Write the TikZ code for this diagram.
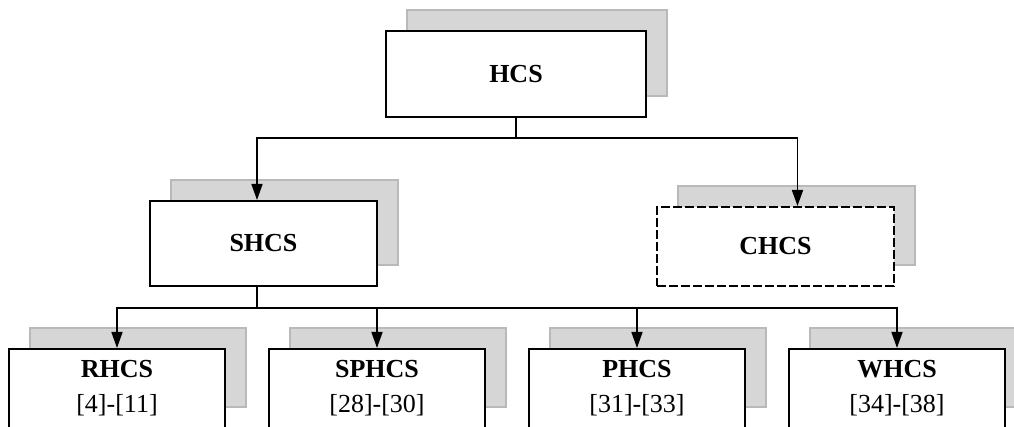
\documentclass[tikz,border=0pt]{standalone}
\usepackage{fontspec}
\setmainfont{Liberation Serif}
\usepackage{tikz}
\usetikzlibrary{arrows.meta, positioning, shadows}

\begin{document}
\begin{tikzpicture}[
    x=1pt, y=1pt,
    node distance=21pt,
    box/.style={
      rectangle,
      draw=black,
      fill=white,
      line width=1pt,
      align=center,
      inner sep=0pt,
      font=\fontsize{13}{17.5}\selectfont,
      general shadow={
        fill=gray!32,
        draw=gray!55,
        solid,
        line width=0.6pt,
        shadow xshift=10.5pt,
        shadow yshift=10.5pt
      }
    },
    leaf/.style={
      box,
      minimum width=108pt,
      minimum height=39.5pt
    },
    arrow/.style={
      -{Triangle[length=8pt,width=5.5pt]},
      line width=0.8pt,
      draw=black
    }
  ]
    \useasboundingbox (0,0) rectangle (507,-213.5);

    % Top level
    \node (hcs) [box, minimum width=130pt, minimum height=43pt] at (258,-37) {\textbf{HCS}};

    % Second level
    \node (shcs) [box, minimum width=113.5pt, minimum height=42.5pt] at (131.75,-121.75) {\textbf{SHCS}};
    \node (chcs) [box, dashed, dash pattern=on 4.5pt off 1.5pt, minimum width=118.5pt, minimum height=39.5pt] at (387.75,-123.25) {\textbf{CHCS}};

    % Third level (left to right)
    \node (rhcs) [leaf] at (58.5,-194.25) {\textbf{RHCS}\\{[4]-[11]}};
    \node (sphcs) [leaf, right=of rhcs] {\textbf{SPHCS}\\{[28]-[30]}};
    \node (phcs) [leaf, right=of sphcs] {\textbf{PHCS}\\{[31]-[33]}};
    \node (whcs) [leaf, right=of phcs] {\textbf{WHCS}\\{[34]-[38]}};

    % Connections
    \draw [arrow] (hcs.south) -- ++(0,-10) -| ([xshift=-3.25pt]shcs.north);
    \draw [arrow] (hcs.south) -- ++(0,-10) -| ([xshift=11pt]chcs.north);
    \foreach \sub in {rhcs, sphcs, phcs, whcs}
      \draw [arrow] ([xshift=-3.25pt]shcs.south) -- ++(0,-10.5) -| (\sub.north);

  \end{tikzpicture}
\end{document}
